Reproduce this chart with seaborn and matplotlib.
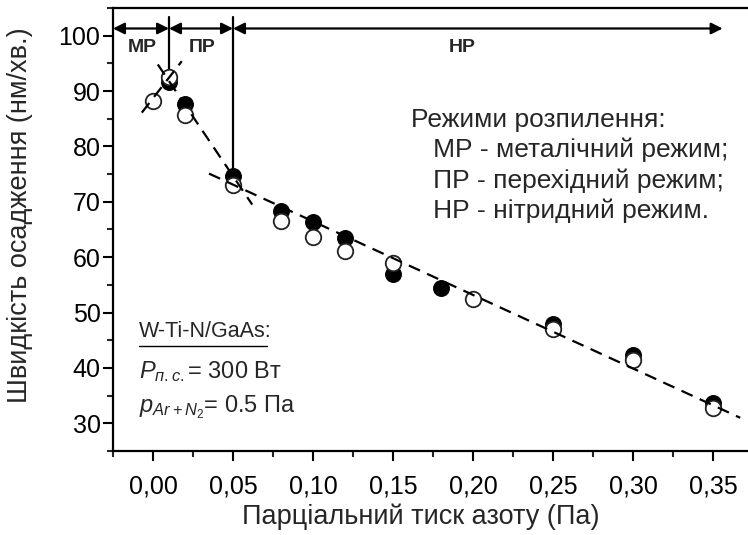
import matplotlib
matplotlib.use("Agg")
import matplotlib.pyplot as plt
from matplotlib.ticker import MultipleLocator, FuncFormatter
import seaborn as sns
import pandas as pd

# Deposition rate vs. nitrogen partial pressure, two film series
p_filled = [0.01, 0.02, 0.05, 0.08, 0.10, 0.12, 0.15, 0.18, 0.25, 0.30, 0.35]
v_filled = [91.7, 87.6, 74.6, 68.3, 66.4, 63.5, 57.0, 54.4, 48.0, 42.4, 33.7]
p_open = [0.00, 0.01, 0.02, 0.05, 0.08, 0.10, 0.12, 0.15, 0.20, 0.25, 0.30, 0.35]
v_open = [88.2, 92.6, 85.6, 73.0, 66.6, 63.6, 61.2, 58.9, 52.4, 47.0, 41.5, 32.7]

# Linear trends for the three sputtering regimes
fit_mr_x, fit_mr_y = [-0.007, 0.018], [86.1, 95.4]
fit_pr_x, fit_pr_y = [0.003, 0.062], [94.8, 69.5]
fit_nr_x, fit_nr_y = [0.035, 0.367], [75.1, 31.0]

# Regime boundaries and labels
regime_edges = [-0.025, 0.01, 0.05, 0.356]
regime_names = ["МР", "ПР", "НР"]
regime_label_x = [-0.0065, 0.031, 0.1935]

legend_lines = ["Режими розпилення:",
                "   МР - металічний режим;",
                "   ПР - перехідний режим;",
                "   НР - нітридний режим."]

x_ticks = [0.00, 0.05, 0.10, 0.15, 0.20, 0.25, 0.30, 0.35]
y_ticks = [30, 40, 50, 60, 70, 80, 90, 100]

sns.set_theme(style="ticks")
plt.rcParams["font.family"] = ["Liberation Sans", "DejaVu Sans"]
plt.rcParams["mathtext.fontset"] = "custom"
plt.rcParams["mathtext.rm"] = "Liberation Sans"
plt.rcParams["mathtext.it"] = "Liberation Sans:italic"
plt.rcParams["mathtext.bf"] = "Liberation Sans:bold"

fig = plt.figure(figsize=(7.48, 5.35), dpi=100)
ax = fig.add_axes([113 / 748, 84 / 535, 640 / 748, 443 / 535])

df_f = pd.DataFrame({"p": p_filled, "v": v_filled})
df_o = pd.DataFrame({"p": p_open, "v": v_open})

sns.scatterplot(data=df_f, x="p", y="v", ax=ax, s=125, color="black",
                edgecolor="black", linewidth=1.0, zorder=3, legend=False)
sns.scatterplot(data=df_o, x="p", y="v", ax=ax, s=125, color="white",
                edgecolor="#222222", linewidth=1.3, zorder=4, legend=False)

dash = (0, (5.5, 3.5))
for fx, fy in [(fit_mr_x, fit_mr_y), (fit_pr_x, fit_pr_y), (fit_nr_x, fit_nr_y)]:
    sns.lineplot(x=fx, y=fy, ax=ax, color="black", lw=1.6,
                 linestyle=dash, zorder=5, legend=False)

# Regime separators: vertical lines down to the boundary points
arrow_y = 101.3
ax.plot([regime_edges[1], regime_edges[1]], [103.4, v_open[1]],
        color="black", lw=1.6, zorder=2)
ax.plot([regime_edges[2], regime_edges[2]], [103.4, v_filled[2]],
        color="black", lw=1.6, zorder=2)

for a, b in zip(regime_edges[:-1], regime_edges[1:]):
    ax.annotate("", xy=(b, arrow_y), xytext=(a, arrow_y),
                arrowprops=dict(arrowstyle="<|-|>", color="black", lw=1.6,
                                mutation_scale=17, shrinkA=0, shrinkB=0),
                zorder=6)

for name, lx in zip(regime_names, regime_label_x):
    ax.text(lx, 97.9, name, ha="center", va="center", fontsize=14,
            fontweight="bold")

legend_y = [84.8, 79.4, 73.8, 68.4]
for txt, ty in zip(legend_lines, legend_y):
    ax.text(0.1615, ty, txt, ha="left", va="center", fontsize=19)

ax.text(-0.0088, 46.6, "W-Ti-N/GaAs:", ha="left", va="center", fontsize=15.5)
ax.plot([-0.0088, 0.0712], [43.9, 43.9], color="black", lw=1.0)
ax.text(-0.0088, 39.3, r"$P_{п.с.}$= 300 Вт", ha="left", va="center",
        fontsize=17)
ax.text(-0.0088, 33.0, r"$p_{Ar+N_{2}}$= 0.5 Па", ha="left", va="center",
        fontsize=17)

ax.set_xlim(-0.025, 0.375)
ax.set_ylim(25, 105)
ax.set_xticks(x_ticks)
ax.set_yticks(y_ticks)
ax.xaxis.set_minor_locator(MultipleLocator(0.025))
ax.yaxis.set_minor_locator(MultipleLocator(5))
ax.xaxis.set_major_formatter(FuncFormatter(lambda v, _: f"{v:.2f}".replace(".", ",")))
ax.tick_params(axis="both", which="major", direction="out", length=7, width=1.5,
               labelsize=18, colors="black")
ax.tick_params(axis="x", which="major", pad=10)
ax.tick_params(axis="y", which="major", pad=2)
ax.tick_params(axis="both", which="minor", direction="out", length=4, width=1.5)
for side in ["left", "bottom", "top", "right"]:
    ax.spines[side].set_linewidth(1.6)
    ax.spines[side].set_color("black")

ax.set_xlabel("Парціальний тиск азоту (Па)", fontsize=19.5)
ax.set_ylabel("Швидкість осадження (нм/хв.)", fontsize=19.5)
ax.xaxis.set_label_coords((421 - 113) / 640, -0.148)
ax.xaxis.label.set_va("center")
ax.yaxis.set_label_coords((20 - 113) / 640, 0.533)
ax.yaxis.label.set_va("center")

fig.savefig("out.png", dpi=100)
